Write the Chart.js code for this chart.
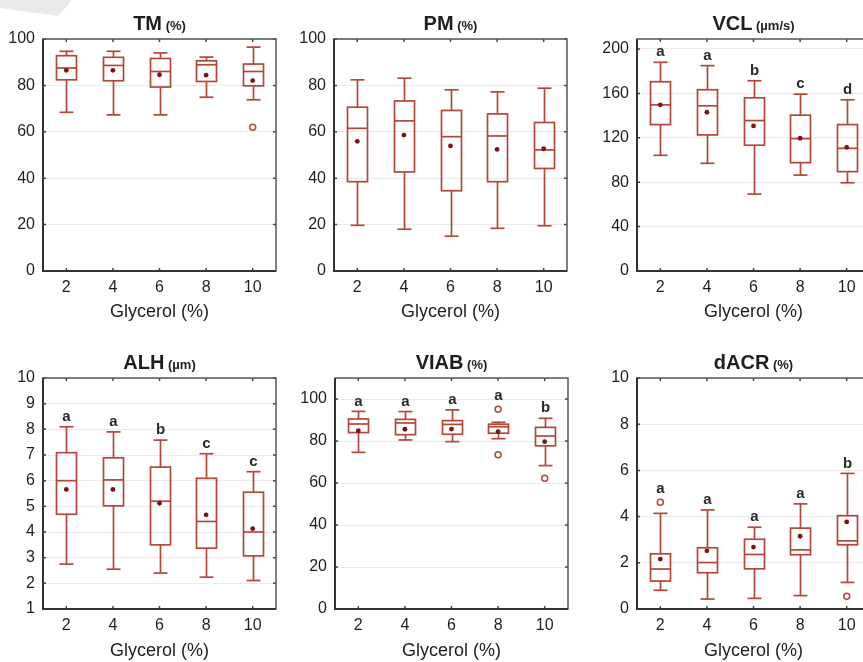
<!DOCTYPE html>
<html><head><meta charset="utf-8">
<script src="https://cdn.jsdelivr.net/npm/chart.js@4.4.0/dist/chart.umd.min.js"></script>
<style>
html,body{margin:0;padding:0;background:#fff;overflow:hidden;}
#wrap{position:relative;width:863px;height:662px;overflow:hidden;}
canvas{position:absolute;}
#wedge{position:absolute;left:0;top:0;width:80px;height:20px;background:#e9e9ec;clip-path:polygon(0 0,72px 0,58px 16px,0 8px);}
</style></head><body>
<div id="wrap"><div id="wedge"></div>
<canvas id="c1"></canvas><canvas id="c2"></canvas><canvas id="c3"></canvas>
<canvas id="c4"></canvas><canvas id="c5"></canvas><canvas id="c6"></canvas>
</div>
<script>
// ---------- categories and tick labels ----------
const glycerol = [2, 4, 6, 8, 10];
const ticks0to100 = [0, 20, 40, 60, 80, 100];
const vclTicks = [0, 40, 80, 120, 160, 200];
const alhTicks = [1, 2, 3, 4, 5, 6, 7, 8, 9, 10];
const dacrTicks = [0, 2, 4, 6, 8, 10];

// ---------- TM (%) ----------
const tmLow  = [68.4, 67.3, 67.3, 74.9, 73.8];
const tmQ1   = [82.4, 82.0, 79.3, 81.7, 79.8];
const tmMed  = [87.5, 88.6, 86.0, 88.9, 86.0];
const tmQ3   = [92.8, 92.1, 91.6, 90.6, 89.2];
const tmHigh = [94.7, 94.7, 94.0, 92.2, 96.5];
const tmMean = [86.5, 86.5, 84.6, 84.4, 82.1];
const tmOutX = [10];
const tmOutY = [62];

// ---------- PM (%) ----------
const pmLow  = [19.7, 18.0, 15.0, 18.4, 19.5];
const pmQ1   = [38.5, 42.7, 34.6, 38.5, 44.2];
const pmMed  = [61.5, 64.7, 57.9, 58.2, 52.2];
const pmQ3   = [70.6, 73.3, 69.2, 67.7, 64.0];
const pmHigh = [82.4, 83.1, 78.1, 77.2, 78.8];
const pmMean = [55.9, 58.6, 53.9, 52.4, 52.7];

// ---------- VCL (µm/s) ----------
const vclLow  = [104.2, 97.0, 69.3, 86.4, 79.5];
const vclQ1   = [131.9, 122.6, 113.3, 97.6, 89.5];
const vclMed  = [149.7, 148.8, 135.5, 119.3, 110.5];
const vclQ3   = [170.5, 163.3, 156.0, 140.4, 131.9];
const vclHigh = [188.0, 185.0, 171.4, 159.3, 154.2];
const vclMean = [149.7, 143.0, 130.7, 119.6, 111.4];
const vclLetters = ['a', 'a', 'b', 'c', 'd'];

// ---------- ALH (µm) ----------
const alhLow  = [2.75, 2.55, 2.40, 2.24, 2.11];
const alhQ1   = [4.69, 5.02, 3.50, 3.37, 3.07];
const alhMed  = [6.00, 6.03, 5.20, 4.41, 4.00];
const alhQ3   = [7.09, 6.89, 6.53, 6.09, 5.55];
const alhHigh = [8.10, 7.90, 7.58, 7.05, 6.35];
const alhMean = [5.66, 5.66, 5.12, 4.67, 4.13];
const alhLetters = ['a', 'a', 'b', 'c', 'c'];

// ---------- VIAB (%) ----------
const viabLow  = [74.6, 80.5, 79.7, 81.1, 68.3];
const viabQ1   = [84.0, 83.0, 83.2, 83.7, 77.7];
const viabMed  = [88.1, 88.6, 87.9, 86.8, 82.4];
const viabQ3   = [90.5, 90.3, 89.7, 88.0, 86.5];
const viabHigh = [94.1, 94.0, 94.8, 88.9, 90.8];
const viabMean = [84.9, 85.6, 85.7, 84.5, 79.7];
const viabOutX = [8, 8, 10];
const viabOutY = [95.1, 73.4, 62.3];
const viabLetters = ['a', 'a', 'a', 'a', 'b'];

// ---------- dACR (%) ----------
const dacrLow  = [0.81, 0.43, 0.46, 0.58, 1.15];
const dacrQ1   = [1.21, 1.57, 1.74, 2.35, 2.78];
const dacrMed  = [1.73, 2.01, 2.36, 2.56, 2.95];
const dacrQ3   = [2.39, 2.65, 3.02, 3.50, 4.04];
const dacrHigh = [4.14, 4.29, 3.54, 4.55, 5.87];
const dacrMean = [2.16, 2.52, 2.68, 3.15, 3.77];
const dacrOutX = [2, 10];
const dacrOutY = [4.62, 0.55];
const dacrLetters = ['a', 'a', 'a', 'a', 'b'];

// ---------- style ----------
const BOX = '#b2473a';
const MEAN = '#7d1212';
const FONT = "'Liberation Sans', Arial, sans-serif";
const TXT = '#1e1e1e';

const boxPlugin = {
  id: 'boxes',
  beforeDatasetsDraw(chart) {
    const o = chart.options.plugins.boxes;
    const xs = chart.scales.x, ys = chart.scales.y, ctx = chart.ctx;
    ctx.save();
    ctx.strokeStyle = BOX; ctx.lineWidth = 1.7; ctx.lineCap = 'butt';
    const line = (a, b, c, d) => { ctx.beginPath(); ctx.moveTo(a, b); ctx.lineTo(c, d); ctx.stroke(); };
    glycerol.forEach((g, i) => {
      const x = Math.round(xs.getPixelForValue(g)) + 0.5;
      const yl = ys.getPixelForValue(o.low[i]), y1 = ys.getPixelForValue(o.q1[i]);
      const ym = ys.getPixelForValue(o.med[i]), y3 = ys.getPixelForValue(o.q3[i]);
      const yh = ys.getPixelForValue(o.high[i]);
      line(x, yh, x, y3); line(x, y1, x, yl);
      line(x - 7, yh, x + 7, yh); line(x - 7, yl, x + 7, yl);
      ctx.strokeRect(x - 10, y3, 20, y1 - y3);
      line(x - 10, ym, x + 10, ym);
      if (o.letters) {
        let top = yh - 10;
        (o.outX || []).forEach((ox, k) => {
          if (ox === g && o.outY[k] > o.high[i]) top = Math.min(top, ys.getPixelForValue(o.outY[k]) - 13);
        });
        ctx.fillStyle = '#2a2a2a';
        ctx.font = 'bold 15px ' + FONT;
        ctx.textAlign = 'center'; ctx.textBaseline = 'middle';
        ctx.fillText(o.letters[i], x, top);
      }
    });
    ctx.restore();
  },
  afterDraw(chart) {
    const o = chart.options.plugins.boxes;
    const a = chart.chartArea, ctx = chart.ctx;
    const xs = chart.scales.x, ys = chart.scales.y;
    ctx.save();
    // inner tick marks
    ctx.strokeStyle = '#444'; ctx.lineWidth = 1.5;
    glycerol.forEach(g => {
      const x = xs.getPixelForValue(g);
      ctx.beginPath(); ctx.moveTo(x, a.top); ctx.lineTo(x, a.top + 3);
      ctx.moveTo(x, a.bottom); ctx.lineTo(x, a.bottom - 3); ctx.stroke();
    });
    o.yTicks.forEach(v => {
      const y = ys.getPixelForValue(v);
      ctx.beginPath(); ctx.moveTo(a.left, y); ctx.lineTo(a.left + 3, y);
      ctx.moveTo(a.right, y); ctx.lineTo(a.right - 3, y); ctx.stroke();
    });
    // frame
    ctx.strokeStyle = '#555'; ctx.lineWidth = 1.5;
    ctx.strokeRect(a.left, a.top, a.right - a.left, a.bottom - a.top);
    ctx.strokeStyle = '#333'; ctx.lineWidth = 2;
    ctx.beginPath(); ctx.moveTo(a.left, a.top); ctx.lineTo(a.left, a.bottom); ctx.lineTo(a.right, a.bottom); ctx.stroke();
    // title
    const cx = (a.left + a.right) / 2, by = a.top - 9;
    ctx.fillStyle = TXT; ctx.textBaseline = 'alphabetic'; ctx.textAlign = 'left';
    ctx.font = 'bold 20px ' + FONT; const w1 = ctx.measureText(o.title[0]).width;
    ctx.font = 'bold 13px ' + FONT; const w2 = ctx.measureText(o.title[1]).width;
    const sx = cx - (w1 + w2) / 2;
    ctx.font = 'bold 20px ' + FONT; ctx.fillText(o.title[0], sx, by);
    ctx.font = 'bold 13px ' + FONT; ctx.fillText(o.title[1], sx + w1, by);
    ctx.restore();
  }
};

function makePanel(p) {
  const cv = document.getElementById(p.id);
  cv.width = p.w; cv.height = p.h;
  cv.style.left = p.left + 'px'; cv.style.top = p.top + 'px';
  cv.style.width = p.w + 'px'; cv.style.height = p.h + 'px';
  const datasets = [{
    data: glycerol.map((g, i) => ({ x: g, y: p.mean[i] })),
    pointRadius: 2.4, pointBackgroundColor: MEAN, pointBorderWidth: 0, showLine: false
  }];
  if (p.outX) datasets.push({
    data: p.outX.map((x, i) => ({ x: x, y: p.outY[i] })),
    pointRadius: 3, pointBackgroundColor: '#fff', pointBorderColor: BOX, pointBorderWidth: 1.5, showLine: false
  });
  new Chart(cv, {
    type: 'scatter',
    data: { datasets },
    plugins: [boxPlugin],
    options: {
      responsive: false, animation: false, devicePixelRatio: 1,
      layout: { padding: { top: p.padTop, right: p.w - p.yW - 233, left: 0, bottom: 0 } },
      plugins: {
        legend: { display: false }, tooltip: { enabled: false }, title: { display: false },
        boxes: { low: p.low, q1: p.q1, med: p.med, q3: p.q3, high: p.high, letters: p.letters,
                 outX: p.outX, outY: p.outY, title: p.title, yTicks: p.yTicks }
      },
      scales: {
        x: {
          type: 'linear', min: 1, max: 11,
          afterBuildTicks: s => { s.ticks = glycerol.map(v => ({ value: v })); },
          afterFit: s => { s.height = p.xH; },
          grid: { display: false, drawTicks: false }, border: { display: false },
          ticks: { padding: 7, color: TXT, font: { family: FONT, size: 16 } },
          title: { display: true, text: 'Glycerol (%)', color: TXT, font: { family: FONT, size: 18 },
                   padding: { top: 0, bottom: p.titlePad } }
        },
        y: {
          type: 'linear', min: p.yMin, max: p.yMax,
          afterBuildTicks: s => { s.ticks = p.yTicks.map(v => ({ value: v })); },
          afterFit: s => { s.width = p.yW; },
          grid: { color: '#ebebeb', lineWidth: 1, drawTicks: false }, border: { display: false },
          ticks: { padding: 8, color: TXT, font: { family: FONT, size: 16 } }
        }
      }
    }
  });
}

const row1 = { top: 0, h: 330, padTop: 39, xH: 59, titlePad: 7 };
const row2 = { top: 330, h: 332, padTop: 48, xH: 53, titlePad: 0 };

makePanel(Object.assign({ id: 'c1', left: 0, w: 290, yW: 43, title: ['TM', ' (%)'], yMin: 0, yMax: 100, yTicks: ticks0to100,
  low: tmLow, q1: tmQ1, med: tmMed, q3: tmQ3, high: tmHigh, mean: tmMean, outX: tmOutX, outY: tmOutY }, row1));
makePanel(Object.assign({ id: 'c2', left: 290, w: 290, yW: 44, title: ['PM', ' (%)'], yMin: 0, yMax: 100, yTicks: ticks0to100,
  low: pmLow, q1: pmQ1, med: pmMed, q3: pmQ3, high: pmHigh, mean: pmMean }, row1));
makePanel(Object.assign({ id: 'c3', left: 580, w: 304, yW: 57, title: ['VCL', ' (µm/s)'], yMin: 0, yMax: 209, yTicks: vclTicks,
  low: vclLow, q1: vclQ1, med: vclMed, q3: vclQ3, high: vclHigh, mean: vclMean, letters: vclLetters }, row1));
makePanel(Object.assign({ id: 'c4', left: 0, w: 290, yW: 43, title: ['ALH', ' (µm)'], yMin: 1, yMax: 10, yTicks: alhTicks,
  low: alhLow, q1: alhQ1, med: alhMed, q3: alhQ3, high: alhHigh, mean: alhMean, letters: alhLetters }, row2));
makePanel(Object.assign({ id: 'c5', left: 290, w: 290, yW: 45, title: ['VIAB', ' (%)'], yMin: 0, yMax: 110, yTicks: ticks0to100,
  low: viabLow, q1: viabQ1, med: viabMed, q3: viabQ3, high: viabHigh, mean: viabMean, outX: viabOutX, outY: viabOutY, letters: viabLetters }, row2));
makePanel(Object.assign({ id: 'c6', left: 580, w: 304, yW: 57, title: ['dACR', ' (%)'], yMin: 0, yMax: 10, yTicks: dacrTicks,
  low: dacrLow, q1: dacrQ1, med: dacrMed, q3: dacrQ3, high: dacrHigh, mean: dacrMean, outX: dacrOutX, outY: dacrOutY, letters: dacrLetters }, row2));
</script>
</body></html>
